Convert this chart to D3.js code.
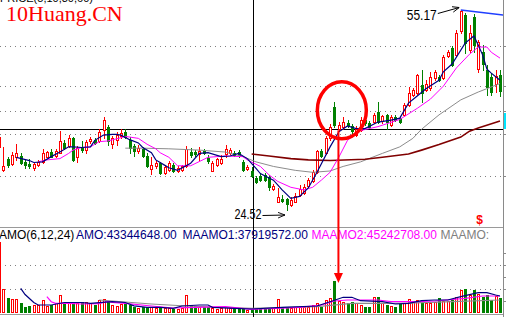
<!DOCTYPE html>
<html>
<head>
<meta charset="utf-8">
<script src="https://cdn.jsdelivr.net/npm/d3@7"></script>
<style>
body { margin: 0; background: #fff; }
svg { display: block; font-family: "Liberation Sans", Arial, sans-serif; }
</style>
</head>
<body>
<div id="chart"></div>
<script>
// daily candles [open, high, low, close]
const ohlc = [
    [34.2,36.0,34.0,35.7],
    [30.6,34.2,30.5,31.3],[32.3,32.7,31.1,31.4],[31.6,33.4,31.4,32.9],[32.6,34.6,32.2,33.3],[32.8,33.2,31.6,31.8],
    [31.9,32.2,31.0,31.4],[31.6,32.3,31.0,31.2],[31.0,31.8,30.7,31.6],[31.4,32.2,31.3,31.9],[31.9,33.8,31.8,33.3],
    [32.6,33.6,32.6,33.4],[33.4,33.8,32.6,32.7],[32.8,33.8,32.7,33.6],[33.3,36.6,33.2,35.1],[34.8,35.3,33.9,34.1],
    [34.3,36.0,34.2,35.6],[35.6,35.7,32.1,32.2],[32.7,34.4,31.9,34.1],[34.2,35.1,33.4,33.7],[33.7,35.3,33.3,34.9],
    [35.1,35.7,34.8,35.4],[35.3,35.5,34.6,34.8],[35.1,36.9,35.0,36.4],[36.8,38.7,35.6,38.3],[37.3,37.6,34.5,35.1],
    [34.7,35.8,34.1,35.5],[35.2,36.4,34.5,36.0],[35.8,37.0,35.6,36.3],[36.5,36.9,35.5,35.7],[35.3,35.7,33.3,34.0],
    [34.4,34.7,32.8,33.6],[33.6,34.5,33.3,34.0],[33.9,34.2,32.7,32.8],[32.8,33.2,31.1,31.3],[30.8,32.6,30.0,31.4],
    [31.3,32.2,30.9,31.8],[31.7,31.9,30.1,30.2],[30.2,31.4,30.1,31.1],[30.6,32.0,30.5,31.7],[31.4,31.7,30.3,30.5],
    [30.5,31.3,30.3,30.9],[30.6,31.4,30.5,31.2],[31.2,34.3,31.1,33.8],[33.4,34.0,32.6,32.9],[33.4,33.7,32.8,33.1],
    [33.1,34.2,32.2,33.6],[33.6,33.9,33.1,33.3],[32.5,32.9,31.7,32.0],[30.5,32.0,30.5,31.7],[31.4,32.5,31.3,32.3],
    [31.7,32.9,31.6,32.4],[33.1,34.5,32.6,33.9],[33.2,34.0,33.1,33.7],[33.3,33.5,32.8,32.9],[33.4,33.7,32.6,32.9],
    [31.9,32.2,30.5,30.6],[30.8,31.4,30.6,31.1],[30.5,31.1,29.6,29.7],[29.5,29.7,28.6,28.8],[29.7,30.0,29.0,29.1],
    [29.9,30.2,29.0,29.1],[29.6,29.9,27.6,28.1],[27.7,28.5,27.6,28.2],[25.8,27.9,25.7,26.5],[26.2,26.8,25.7,25.9],
    [26.2,26.3,24.52,25.5],[25.3,26.5,25.1,26.0],[25.8,27.1,25.7,26.6],[26.8,28.3,26.6,27.8],[27.1,28.5,27.0,28.1],
    [28.2,29.4,27.9,29.1],[29.0,30.6,28.8,30.4],[30.3,33.7,30.2,33.5],[33.6,33.9,32.6,32.8],[33.2,35.8,33.1,35.5],
    [35.5,37.7,35.2,37.2],[40.3,41.1,37.3,37.5],[36.9,38.0,36.6,37.5],[37.3,38.8,37.0,38.0],[37.9,38.3,37.2,37.5],
    [37.4,37.7,36.2,36.6],[36.0,37.4,35.8,37.0],[36.8,38.8,36.6,38.3],[38.3,38.6,37.5,37.8],[37.9,38.1,37.1,37.3],
    [38.0,39.4,37.8,39.1],[39.6,41.1,37.8,38.0],[38.1,39.1,37.8,38.9],[39.1,39.3,37.0,38.0],[37.5,39.1,37.4,38.8],
    [38.8,39.1,38.1,38.3],[38.6,38.9,37.8,38.0],[39.1,40.9,38.9,40.6],[40.6,43.4,40.4,42.4],[42.1,43.2,42.0,42.9],
    [42.4,45.4,42.3,45.2],[43.7,46.0,41.1,42.4],[42.9,44.4,42.7,43.9],[43.2,45.7,42.9,44.9],[44.7,46.0,44.4,45.7],
    [44.9,45.2,44.3,44.4],[44.7,48.3,44.6,48.0],[48.1,49.0,48.0,48.8],[49.3,49.7,46.6,46.7],[48.3,52.1,48.1,51.6],
    [52.0,55.17,51.6,55.0],[54.4,54.7,48.6,50.1],[49.0,52.9,48.7,51.6],[54.1,54.5,48.7,49.8],[46.1,50.6,45.7,50.3],
    [48.7,49.8,46.0,46.9],[46.0,46.7,42.1,43.4],[44.9,45.5,42.1,42.6],[43.8,46.0,42.6,45.0],[45.2,46.0,42.0,42.7]
];

// turnover (AMO), millions
const volume = [
    221,
    71.7,45.1,40.3,42.1,29.9,17.7,19.8,22.9,22.9,38.1,
    20.7,22.9,28.1,52.5,29.9,28.1,32.9,28.1,32.9,32.9,
    28.1,22.9,38.1,40.3,36.0,22.9,19.8,25.9,29.9,22.0,
    15.9,12.8,15.9,15.9,17.7,12.8,12.8,12.8,12.8,9.8,
    9.8,12.8,53.4,22.9,19.8,15.9,15.9,15.9,12.8,9.8,
    12.8,15.9,12.8,12.8,12.8,9.8,7.6,7.0,9.8,9.8,
    9.8,9.8,12.8,41.2,15.9,15.9,12.8,15.9,15.9,15.9,
    17.7,22.9,28.1,15.9,38.1,43.3,96.1,36.0,32.9,29.9,
    32.9,28.1,22.9,15.9,15.9,46.4,48.2,29.9,22.9,19.8,
    15.9,28.1,29.9,40.3,32.9,38.1,36.0,28.1,28.1,32.9,
    43.3,36.0,36.0,38.1,48.2,68.6,71.7,53.4,68.6,56.4,
    48.2,53.4,38.1,50.3,43.3
];

// moving averages: [candle index, value]
const ma5 = [[4,32.6],[7,32.1],[8,31.8],[10,31.9],[12,32.7],[14,33.4],[16,34.2],[17,34.2],[19,34.1],[21,34.2],[22,35.2],[24,36.0],[26,36.1],[27,36.1],[28,36.0],[30,35.3],[32,34.8],[33,34.1],[35,33.3],[36,32.2],[38,31.4],[39,31.0],[41,30.6],[44,31.7],[46,33.2],[48,33.3],[51,32.7],[53,32.8],[55,33.2],[57,32.4],[59,30.9],[60,30.1],[63,29.1],[65,27.6],[67,26.3],[69,26.6],[71,27.9],[73,30.3],[76,34.2],[78,36.5],[80,37.4],[82,37.0],[84,37.0],[87,38.0],[90,38.3],[92,38.6],[94,40.9],[96,42.0],[98,43.1],[101,44.4],[102,45.7],[104,46.9],[107,50.1],[109,51.2],[110,49.8],[111,48.3],[112,46.1],[113,45.5],[115,44.4]];
const ma10 = [[9,31.9],[11,32.2],[14,32.4],[16,33.2],[17,33.7],[19,34.1],[21,34.2],[23,35.0],[25,35.1],[28,35.6],[29,35.8],[32,35.5],[34,34.6],[36,33.9],[37,33.3],[39,32.6],[41,31.3],[44,31.3],[48,32.6],[52,32.8],[56,32.7],[57,32.2],[60,31.2],[62,29.9],[64,28.9],[67,28.0],[70,27.6],[72,28.0],[74,29.1],[76,30.3],[78,32.6],[80,35.2],[83,36.7],[87,37.3],[92,38.4],[96,40.1],[99,41.5],[102,43.5],[105,46.3],[108,48.4],[110,49.5],[112,49.5],[113,48.7],[115,47.8]];
const ma30 = [[29,34.0],[33,34.0],[39,33.9],[46,33.7],[52,33.4],[56,32.7],[59,31.9],[63,31.2],[68,30.6],[72,30.3],[76,30.5],[79,31.2],[83,31.9],[88,33.2],[92,34.2],[95,35.5],[97,36.9],[101,39.1],[106,41.4],[110,42.6],[115,43.9]];
const ma60 = [[58,33.1],[62,32.8],[67,32.4],[71,32.2],[76,32.1],[84,32.3],[88,32.6],[94,33.1],[97,33.7],[101,34.55],[106,35.7],[108,36.6],[110,37.1],[115,38.15]];
const highLine = [[106,55.17],[115.7,54.4]];

const amo6 = [[5,73.8],[6,54.9],[7,42.7],[8,30.5],[9,22.9],[12,22.9],[15,30.5],[19,30.5],[21,28.1],[23,29.9],[26,32.9],[29,30.5],[31,20.4],[34,15.9],[37,15.9],[40,12.8],[42,19.8],[46,22.9],[48,22.9],[49,15.9],[54,12.8],[58,10.7],[65,15.9],[73,19.8],[76,32.9],[79,46.4],[81,46.4],[83,36.0],[88,32.9],[91,25.9],[94,28.1],[97,36.0],[100,38.1],[103,38.1],[106,48.2],[110,60.4],[112,60.4],[114,53.4],[115,50.3]];
const amo12 = [[11,48.2],[12,32.9],[13,28.1],[16,28.1],[19,25.9],[23,26.8],[25,33.6],[26,31.1],[29,28.1],[35,19.8],[40,13.7],[43,14.6],[52,17.7],[58,9.8],[69,15.9],[74,22.9],[77,35.1],[80,38.1],[87,38.1],[90,32.9],[96,32.9],[100,35.1],[107,43.3],[111,50.3],[115,50.3]];
const amo24 = [[23,38.1],[29,32.0],[35,25.9],[43,19.8],[58,12.8],[73,17.7],[81,28.1],[92,28.1],[104,32.9],[115,38.1]];

const priceGrid = [49.65, 43.52, 39.76, 36.16, 29.80];
const volGrid = [72, 144];
const crosshair = { index: 58.3, price: 36.88 };
const highPoint = { index: 106, price: 55.17, label: '55.17' };
const lowPoint = { index: 66, price: 24.52, label: '24.52' };
const circleMark = { index: 78.7, price: 39.8 };
const sellMark = { index: 110.3, price: 22.3 };
const volLabels = [
    { text: 'AMO(6,12,24)', color: '#000000', x: -1 },
    { text: 'AMO:43344648.00', color: '#000080', x: 76 },
    { text: 'MAAMO1:37919572.00', color: '#000080', x: 182.5 },
    { text: 'MAAMO2:45242708.00', color: '#ff00ff', x: 311.5 },
    { text: 'MAAMO:', color: '#808080', x: 440.5 }
];

const W = 506, H = 317;
const RED = '#ff0000', GREEN = '#008000';

const svg = d3.select('#chart').append('svg')
    .attr('width', W)
    .attr('height', H);

const x = d3.scaleLinear().domain([0, ohlc.length - 1]).range([-1.06, 500]);
const yPrice = d3.scaleLinear().domain([22.07, 56.40]).range([226, 2]);
const yVol = d3.scaleLinear().domain([0, 257.7]).range([312.5, 228]);
const px = i => Math.round(x(i));
const crisp = v => Math.round(v) + 0.5;

const defs = svg.append('defs');
defs.append('clipPath').attr('id', 'clip-main')
    .append('rect').attr('x', 0).attr('y', 0).attr('width', 503).attr('height', 227);
defs.append('clipPath').attr('id', 'clip-vol')
    .append('rect').attr('x', 0).attr('y', 242).attr('width', 503).attr('height', 72);
defs.append('marker').attr('id', 'arrow')
    .attr('viewBox', '0 0 10 10').attr('refX', 10).attr('refY', 5)
    .attr('markerWidth', 7).attr('markerHeight', 7).attr('orient', 'auto')
    .append('path').attr('d', 'M0,1 L10,5 L0,9').attr('fill', 'none').attr('stroke', '#000').attr('stroke-width', 1.3);

// gridlines
svg.append('g').selectAll('line')
    .data(priceGrid)
    .enter()
    .append('line')
    .attr('x1', 0).attr('x2', 501)
    .attr('y1', d => crisp(yPrice(d))).attr('y2', d => crisp(yPrice(d)))
    .attr('stroke', '#808080').attr('stroke-dasharray', '1,4');

svg.append('g').selectAll('line')
    .data(volGrid)
    .enter()
    .append('line')
    .attr('x1', 0).attr('x2', 501)
    .attr('y1', d => crisp(yVol(d))).attr('y2', d => crisp(yVol(d)))
    .attr('stroke', '#808080').attr('stroke-dasharray', '1,4');

// pane frame
svg.append('line').attr('x1', 0).attr('x2', 504).attr('y1', 227.5).attr('y2', 227.5).attr('stroke', '#9a9a9a');
svg.append('line').attr('x1', 0).attr('x2', 504).attr('y1', 314.5).attr('y2', 314.5).attr('stroke', '#9a9a9a');
svg.append('line').attr('x1', 503.5).attr('x2', 503.5).attr('y1', 0).attr('y2', H).attr('stroke', '#8a8a8a');
svg.append('g').selectAll('line')
    .data(priceGrid.map(yPrice).concat(volGrid.map(yVol)).concat([yVol(36), yVol(108), yVol(180)]))
    .enter()
    .append('line')
    .attr('x1', 504).attr('x2', 506)
    .attr('y1', d => crisp(d)).attr('y2', d => crisp(d))
    .attr('stroke', '#8a8a8a');

// crosshair
svg.append('line')
    .attr('x1', 0).attr('x2', 503)
    .attr('y1', crisp(yPrice(crosshair.price))).attr('y2', crisp(yPrice(crosshair.price)))
    .attr('stroke', '#000');
svg.append('line')
    .attr('x1', crisp(x(crosshair.index))).attr('x2', crisp(x(crosshair.index)))
    .attr('y1', 0).attr('y2', H)
    .attr('stroke', '#000');
svg.append('rect')
    .attr('x', 504).attr('y', Math.round(yPrice(crosshair.price)) - 16)
    .attr('width', 2).attr('height', 16)
    .attr('fill', '#00e5ff');

// candles
const main = svg.append('g').attr('clip-path', 'url(#clip-main)');
const up = d => d[3] >= d[0];

main.append('g').selectAll('line')
    .data(ohlc)
    .enter()
    .append('line')
    .attr('x1', (d, i) => px(i) + 0.5).attr('x2', (d, i) => px(i) + 0.5)
    .attr('y1', d => Math.round(yPrice(d[1]))).attr('y2', d => Math.round(yPrice(d[2])) + 1)
    .attr('stroke', d => up(d) ? RED : GREEN);

main.append('g').selectAll('rect')
    .data(ohlc)
    .enter()
    .append('rect')
    .each(function (d, i) {
        const top = Math.round(yPrice(Math.max(d[0], d[3])));
        const bot = Math.max(Math.round(yPrice(Math.min(d[0], d[3]))), top + 1);
        const r = d3.select(this);
        if (up(d)) {
            r.attr('x', px(i) - 0.5).attr('y', top + 0.5)
                .attr('width', 2).attr('height', bot - top)
                .attr('fill', '#fff').attr('stroke', RED);
        } else {
            r.attr('x', px(i) - 1).attr('y', top)
                .attr('width', 3).attr('height', bot - top + 1)
                .attr('fill', GREEN);
        }
    });

// moving averages on price
const priceLine = d3.line().x(d => x(d[0])).y(d => yPrice(d[1]));
[[ma30, '#8c8c8c', 1], [ma60, '#800000', 1.6], [ma10, '#ff00ff', 1], [ma5, '#000080', 1.2], [highLine, '#1f3fff', 1.4]]
    .forEach(([data, color, w]) => {
        main.append('path')
            .attr('d', priceLine(data))
            .attr('fill', 'none')
            .attr('stroke', color)
            .attr('stroke-width', w);
    });

// volume bars
const vol = svg.append('g').attr('clip-path', 'url(#clip-vol)');
vol.append('g').selectAll('rect')
    .data(volume)
    .enter()
    .append('rect')
    .each(function (v, i) {
        const top = Math.round(yVol(v));
        const bot = 312;
        const r = d3.select(this);
        if (up(ohlc[i])) {
            r.attr('x', px(i) - 0.5).attr('y', top + 0.5)
                .attr('width', 2).attr('height', bot - top)
                .attr('fill', '#fff').attr('stroke', RED);
        } else {
            r.attr('x', px(i) - 1).attr('y', top)
                .attr('width', 3).attr('height', bot - top + 1)
                .attr('fill', GREEN);
        }
    });

const volLine = d3.line().x(d => x(d[0])).y(d => yVol(d[1]));
[[amo24, '#8c8c8c'], [amo12, '#ff00ff'], [amo6, '#000080']].forEach(([data, color]) => {
    vol.append('path')
        .attr('d', volLine(data))
        .attr('fill', 'none')
        .attr('stroke', color)
        .attr('stroke-width', 1.2);
});

// indicator caption row
svg.append('g').selectAll('text')
    .data(volLabels)
    .enter()
    .append('text')
    .attr('x', d => d.x)
    .attr('y', 238.5)
    .attr('font-size', 12)
    .attr('fill', d => d.color)
    .text(d => d.text);

// circled breakout and pointer down to its volume bar
const cx = x(circleMark.index), cy = yPrice(circleMark.price);
svg.append('ellipse')
    .attr('cx', cx).attr('cy', cy).attr('rx', 24.5).attr('ry', 28.5)
    .attr('fill', 'none').attr('stroke', RED).attr('stroke-width', 3.5);
const arrowX = x(77) + 4;
const arrowTip = yVol(volume[77]) + 2;
svg.append('line')
    .attr('x1', arrowX).attr('x2', arrowX)
    .attr('y1', cy + 20).attr('y2', arrowTip - 8)
    .attr('stroke', RED).attr('stroke-width', 2);
svg.append('path')
    .attr('d', `M${arrowX - 4.5},${arrowTip - 10} L${arrowX + 4.5},${arrowTip - 10} L${arrowX},${arrowTip} Z`)
    .attr('fill', RED);

// high / low annotations: [point, tip dx, tip dy, tail dx, tail dy, label dx, label dy, label width]
[[highPoint, -1.5, -2.5, -23, 6, -24, 10, 30], [lowPoint, -1.5, 5, -24, 0.5, -25, 9, 27]]
    .forEach(([p, tx, ty, sx, sy, lx, ly, len]) => {
        const hx = x(p.index), hy = yPrice(p.price);
        svg.append('line')
            .attr('x1', hx + sx).attr('y1', hy + ty + sy)
            .attr('x2', hx + tx).attr('y2', hy + ty)
            .attr('stroke', '#000').attr('stroke-width', 1)
            .attr('marker-end', 'url(#arrow)');
        svg.append('text')
            .attr('x', hx + lx).attr('y', hy + ly)
            .attr('text-anchor', 'end')
            .attr('font-size', 14)
            .attr('textLength', len)
            .attr('lengthAdjust', 'spacingAndGlyphs')
            .attr('fill', '#000')
            .text(p.label);
    });

// sell signal
svg.append('text')
    .attr('x', x(sellMark.index)).attr('y', yPrice(sellMark.price))
    .attr('text-anchor', 'middle')
    .attr('font-size', 12).attr('font-weight', 'bold')
    .attr('fill', RED)
    .text('$');

// header (scrolled partly out of view)
svg.append('text')
    .attr('x', 0).attr('y', 2)
    .attr('font-size', 11).attr('fill', '#000')
    .text('PRICE(5,10,30,60)');
svg.append('text')
    .attr('x', 6).attr('y', 21)
    .attr('font-family', '"Liberation Serif", "Times New Roman", serif')
    .attr('font-size', 22)
    .attr('fill', RED)
    .text('10Huang.CN');
</script>
</body>
</html>
